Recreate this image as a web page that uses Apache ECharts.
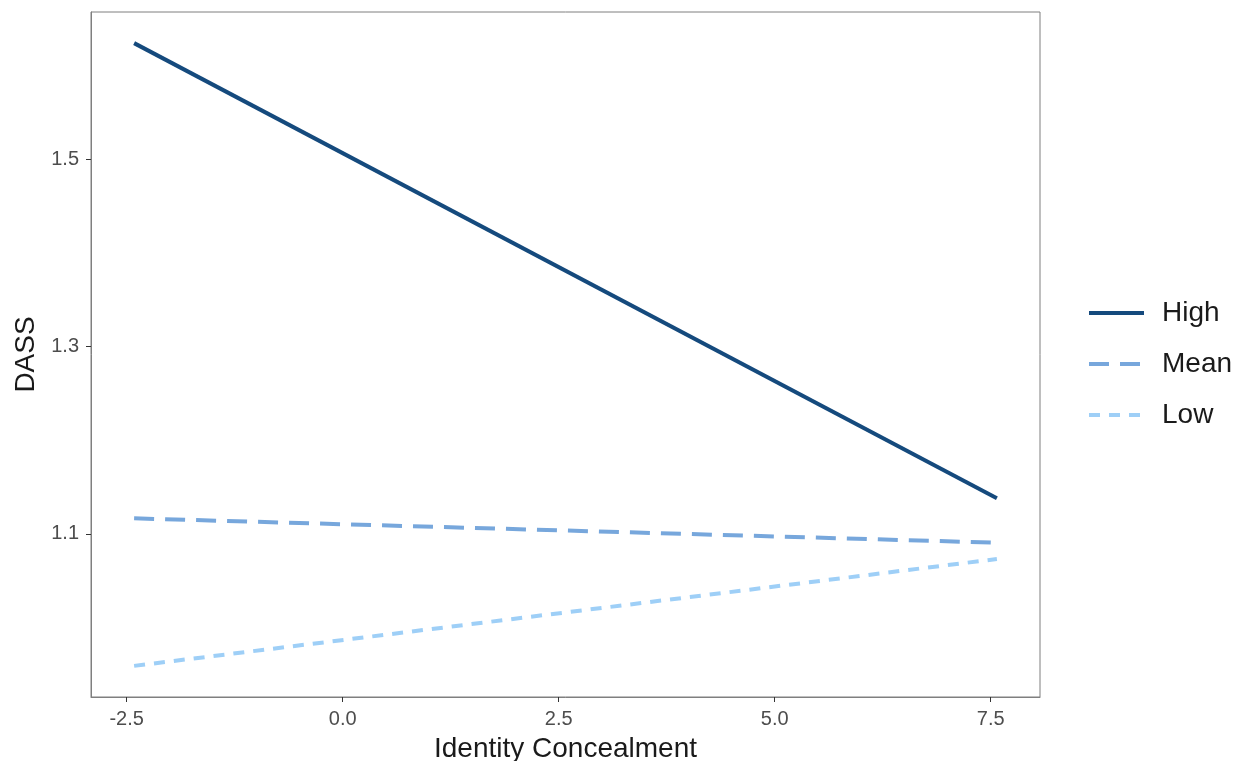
<!DOCTYPE html>
<html>
<head>
<meta charset="utf-8">
<script src="https://cdn.jsdelivr.net/npm/echarts@6/dist/echarts.min.js"></script>
<style>
  html, body { margin: 0; padding: 0; background: #fff; }
  #chart { width: 1236px; height: 761px; }
</style>
</head>
<body>
<div id="chart"></div>
<script>
  // x positions where the fitted lines start and end
  const xEnds = [-2.414, 7.572]
  const seriesNames = ['High', 'Mean', 'Low']
  const highVals = [1.6236, 1.138]
  const meanVals = [1.1167, 1.0907]
  const lowVals = [0.9593, 1.0733]
  const xTicks = [-2.5, 0, 2.5, 5, 7.5]
  const yTicks = [1.1, 1.3, 1.5]

  const font = 'Liberation Sans, Arial, sans-serif'
  const pairs = vals => xEnds.map((x, i) => [x, vals[i]])

  const chart = echarts.init(document.getElementById('chart'))
  chart.setOption({
    animation: false,
    textStyle: { fontFamily: font },
    grid: {
      left: 91,
      right: 196,
      top: 12,
      bottom: 64,
      outerBoundsMode: 'none',
      show: true,
      borderColor: '#7f7f7f',
      borderWidth: 1
    },
    legend: {
      orient: 'vertical',
      left: 1087,
      top: 299,
      padding: 0,
      itemWidth: 55,
      itemHeight: 14,
      itemGap: 23,
      itemStyle: { opacity: 0 },
      lineStyle: { width: 4 },
      textStyle: { fontSize: 28, color: '#1a1a1a', fontFamily: font, padding: [0, 0, 0, 13] },
      data: seriesNames
    },
    xAxis: {
      type: 'value',
      min: -2.913,
      max: 8.071,
      name: 'Identity Concealment',
      nameLocation: 'middle',
      nameGap: 38,
      nameTextStyle: { fontSize: 28, color: '#1a1a1a' },
      axisLine: { show: true, onZero: false, lineStyle: { color: '#7f7f7f' } },
      axisTick: { show: true, length: 5, customValues: xTicks, lineStyle: { color: '#333' } },
      axisLabel: {
        customValues: xTicks,
        fontSize: 20,
        color: '#4d4d4d',
        margin: 12,
        formatter: v => v.toFixed(1)
      },
      splitLine: { show: false }
    },
    yAxis: {
      type: 'value',
      min: 0.9261,
      max: 1.6568,
      name: 'DASS',
      nameLocation: 'middle',
      nameGap: 50,
      nameRotate: 90,
      nameTextStyle: { fontSize: 28, color: '#1a1a1a' },
      axisLine: { show: true, onZero: false, lineStyle: { color: '#7f7f7f' } },
      axisTick: { show: true, length: 5, customValues: yTicks, lineStyle: { color: '#333' } },
      axisLabel: {
        customValues: yTicks,
        fontSize: 20,
        color: '#4d4d4d',
        margin: 12,
        formatter: v => v.toFixed(1)
      },
      splitLine: { show: false }
    },
    series: [
      {
        name: 'High',
        type: 'line',
        symbol: 'none',
        data: pairs(highVals),
        itemStyle: { color: '#154a7d' },
        lineStyle: { color: '#154a7d', width: 4, type: 'solid', cap: 'butt' }
      },
      {
        name: 'Mean',
        type: 'line',
        symbol: 'none',
        data: pairs(meanVals),
        itemStyle: { color: '#77a7dc' },
        lineStyle: { color: '#77a7dc', width: 4, type: [20, 11], cap: 'butt' }
      },
      {
        name: 'Low',
        type: 'line',
        symbol: 'none',
        data: pairs(lowVals),
        itemStyle: { color: '#9ecff7' },
        lineStyle: { color: '#9ecff7', width: 4, type: [11, 9], cap: 'butt' }
      }
    ]
  })
</script>
</body>
</html>
